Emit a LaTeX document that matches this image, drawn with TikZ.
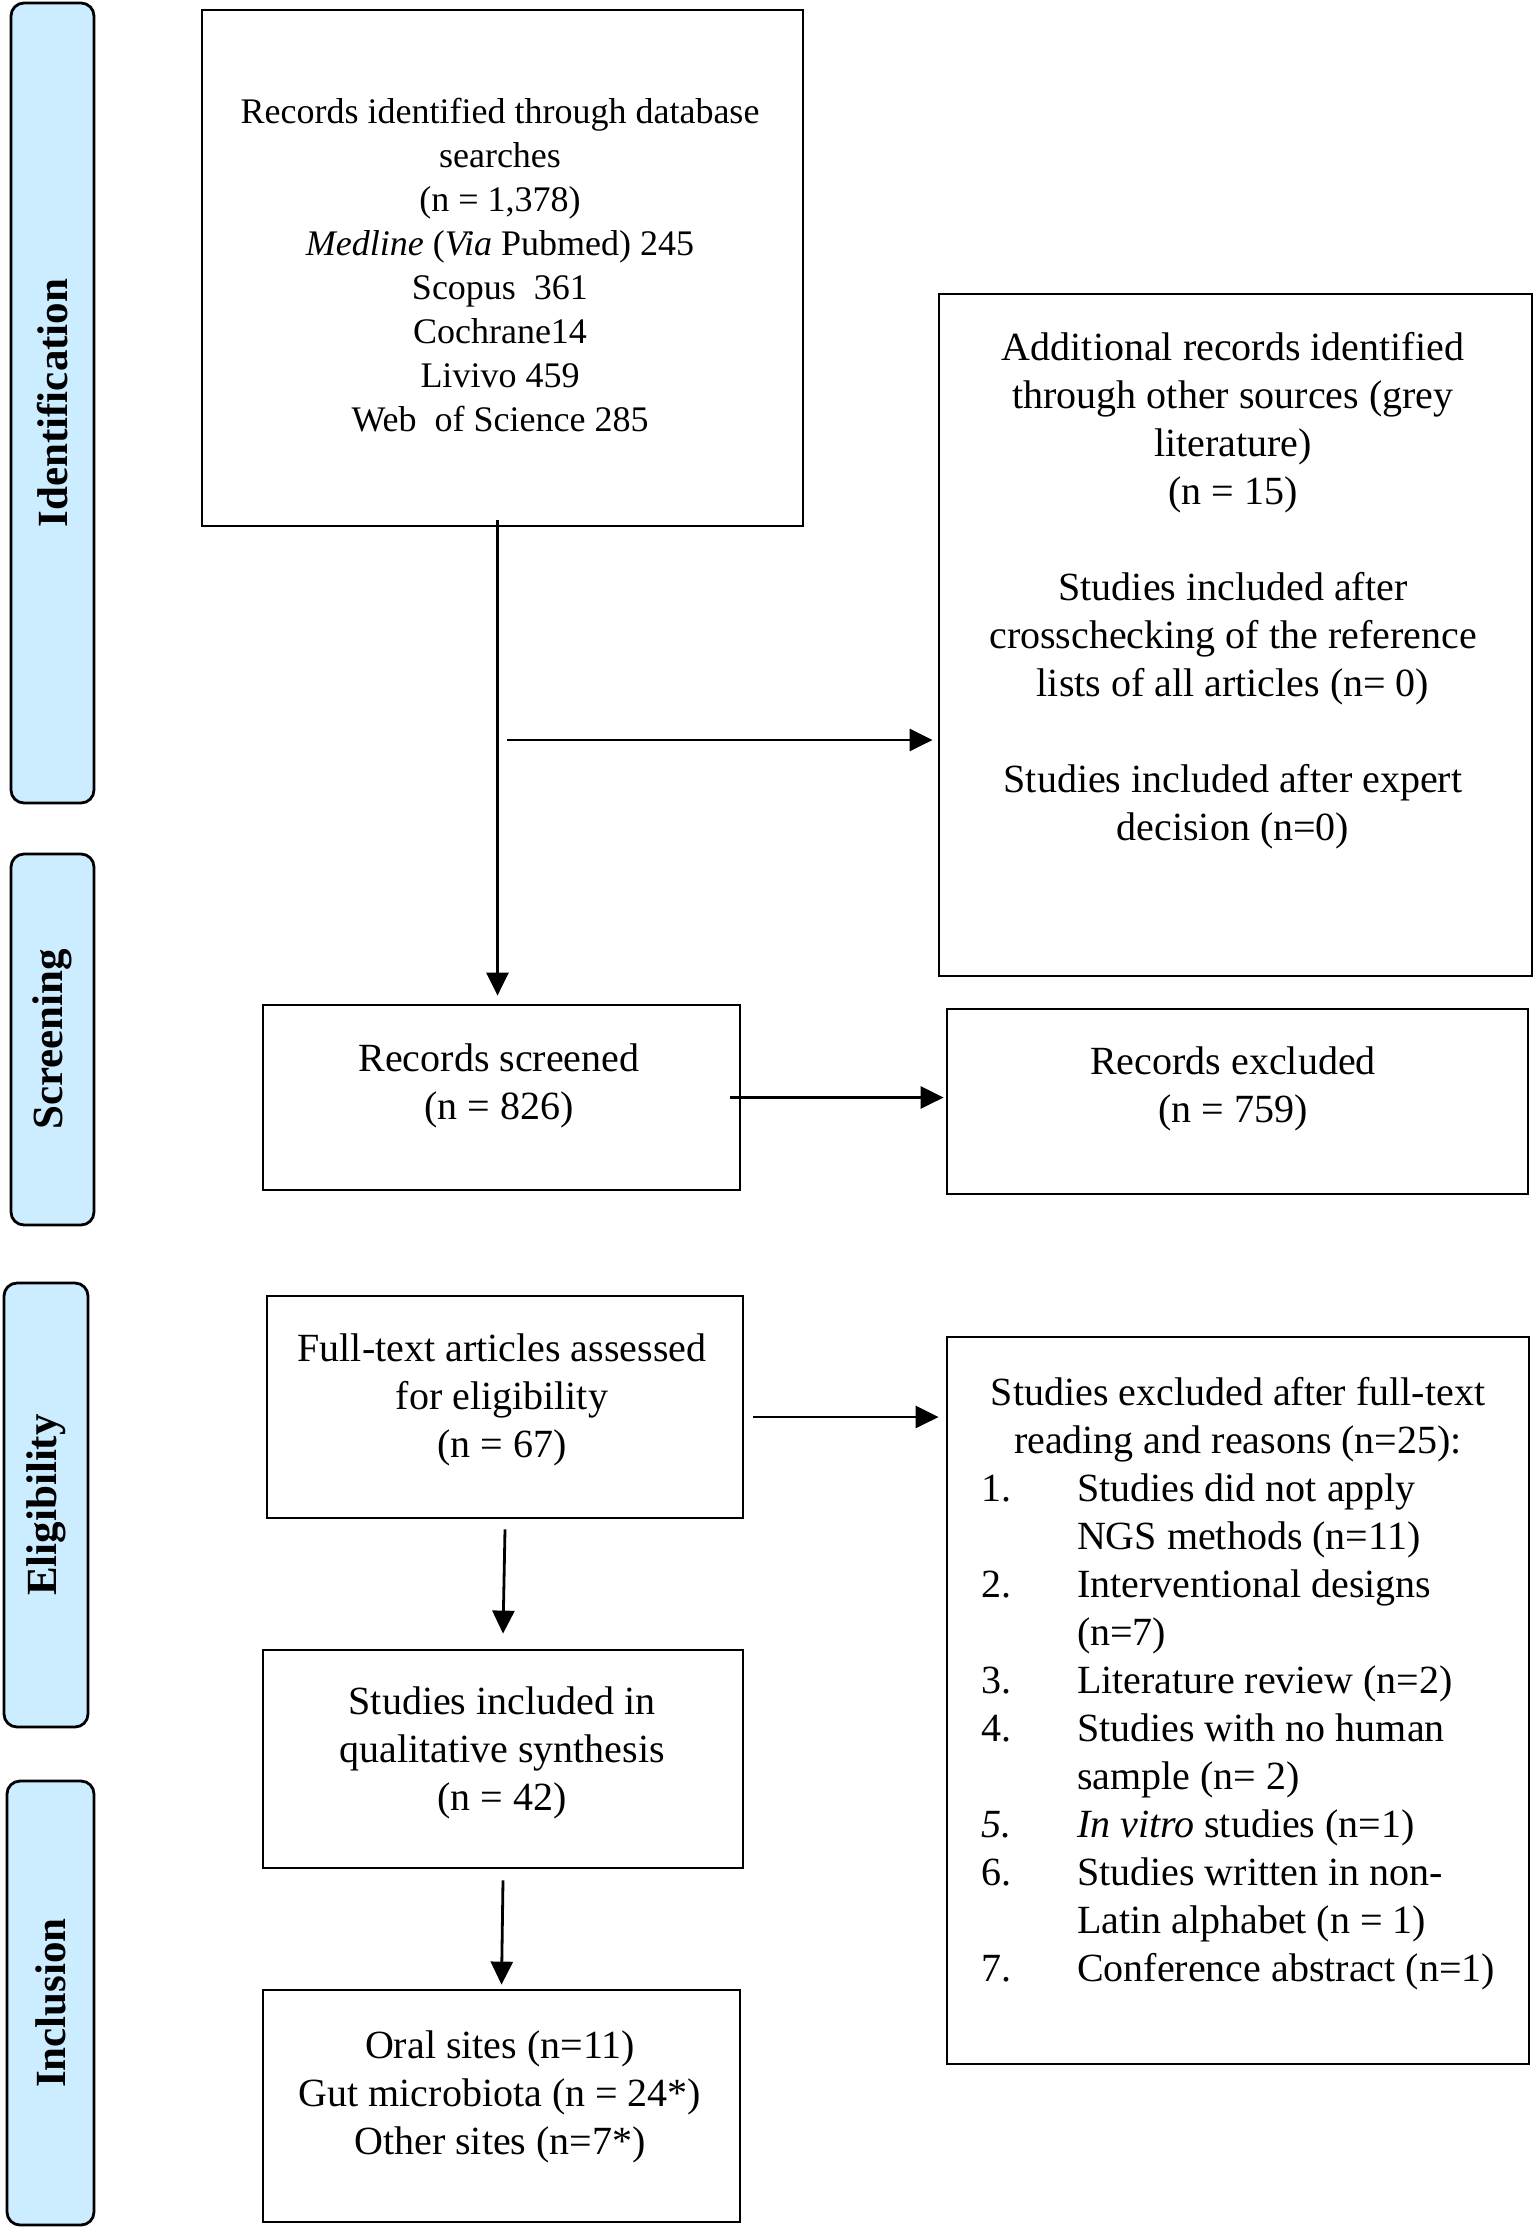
\documentclass[tikz,border=0pt]{standalone}
\usepackage{fontspec}
\setmainfont{Liberation Serif}
\usetikzlibrary{arrows.meta,calc}
\definecolor{bandblue}{RGB}{204,236,255}
\begin{document}
\begin{tikzpicture}[x=0.5pt,y=-0.5pt,
  box/.style={draw,line width=1.4pt,inner sep=0,fill=white},
  band/.style={draw,line width=1.4pt,fill=bandblue,rounded corners=6.5pt,inner sep=0},
  bandlabel/.style={rotate=90,font=\fontsize{21.5}{25}\selectfont\bfseries,inner sep=0},
  txt/.style={align=center,font=\fontsize{20}{24}\selectfont,inner sep=0},
  smalltxt/.style={align=center,font=\fontsize{18}{22}\selectfont,inner sep=0},
  arr/.style={line width=1.4pt,-{Triangle[length=11.5pt,width=11pt]}}]
\useasboundingbox (0,0) rectangle (1535,2229);

% phase bands
\node[band,minimum width=41.5pt,minimum height=400pt] (b1) at (52.5,403) {};
\node[band,minimum width=41.5pt,minimum height=185.5pt] (b2) at (52.5,1039.5) {};
\node[band,minimum width=42pt,minimum height=222pt] (b3) at (46,1505) {};
\node[band,minimum width=43.5pt,minimum height=222pt] (b4) at (50.5,2003) {};
\node[bandlabel] (l1) at (b1.center) {Identification};
\node[bandlabel] (l2) at (b2.center) {Screening};
\node[bandlabel] (l3) at (b3.center) {Eligibility};
\node[bandlabel] (l4) at (b4.center) {Inclusion};

% boxes
\node[box,minimum width=300.5pt,minimum height=258pt] (box1) at (502.5,268) {};
\node[box,minimum width=296.5pt,minimum height=341pt] (box2) at (1235.5,635) {};
\node[box,minimum width=238.5pt,minimum height=92.5pt] (box3) at (501.5,1097.5) {};
\node[box,minimum width=290.5pt,minimum height=92.5pt] (box4) at (1237.5,1101.5) {};
\node[box,minimum width=238pt,minimum height=111pt] (box5) at (505,1407) {};
\node[box,minimum width=291pt,minimum height=363.5pt] (box6) at (1238,1700.5) {};
\node[box,minimum width=240pt,minimum height=109pt] (box7) at (503,1759) {};
\node[box,minimum width=238.5pt,minimum height=116pt] (box8) at (501.5,2106) {};

% texts
\node[smalltxt] (t1) at (500,265) {Records identified through database\\searches\\(n = 1,378)\\\textit{Medline} (\textit{Via} Pubmed) 245\\Scopus\ \ 361\\Cochrane14\\Livivo 459\\Web\ \ of Science 285};
\node[txt] (t2) at (1233,591) {Additional records identified\\through other sources (grey\\literature)\\(n = 15)\\[24pt]Studies included after\\crosschecking of the reference\\lists of all articles (n= 0)\\[24pt]Studies included after expert\\decision (n=0)};
\node[txt] (t3) at (499,1086) {Records screened\\(n = 826)};
\node[txt] (t4) at (1233,1089) {Records excluded\\(n = 759)};
\node[txt] (t5) at (502,1400) {Full-text articles assessed\\for eligibility\\(n = 67)};
\node[txt] (t6) at (1238,1684) {\begin{tabular}{@{}p{48pt}@{}l@{}}
\multicolumn{2}{@{}c@{}}{Studies excluded after full-text}\\
\multicolumn{2}{@{}c@{}}{reading and reasons (n=25):}\\
1. & Studies did not apply\\
   & NGS methods (n=11)\\
2. & Interventional designs\\
   & (n=7)\\
3. & Literature review (n=2)\\
4. & Studies with no human\\
   & sample (n= 2)\\
\textit{5.} & \textit{In vitro} studies (n=1)\\
6. & Studies written in non-\\
   & Latin alphabet (n = 1)\\
7. & Conference abstract (n=1)
\end{tabular}};
\node[txt] (t7) at (502,1753) {Studies included in\\qualitative synthesis\\(n = 42)};
\node[txt] (t8) at (500,2097) {Oral sites (n=11)\\Gut microbiota (n = 24*)\\Other sites (n=7*)};

% connectors
\coordinate (h1) at (507,740);
\draw[arr] ([xshift=-2.5pt,yshift=3.5pt]box1.south) -- ([xshift=-2.5pt,yshift=4pt]box1.south |- box3.north);
\draw[arr] (h1) -- ([xshift=-2.5pt]box2.west |- h1);
\draw[arr] ([xshift=-5.5pt]box3.east) -- ([xshift=-1pt]box4.west |- box3.east);
\draw[arr] ([xshift=4.5pt,yshift=-5pt]box5.east) -- ([xshift=-3.5pt,yshift=-5pt]box6.west |- box5.east);
\draw[arr] ([yshift=-5pt]box5.south) -- ([yshift=7.5pt]box7.north);
\draw[arr] ([yshift=-5.5pt]box7.south) -- ([yshift=2pt]box8.north);
\end{tikzpicture}
\end{document}
